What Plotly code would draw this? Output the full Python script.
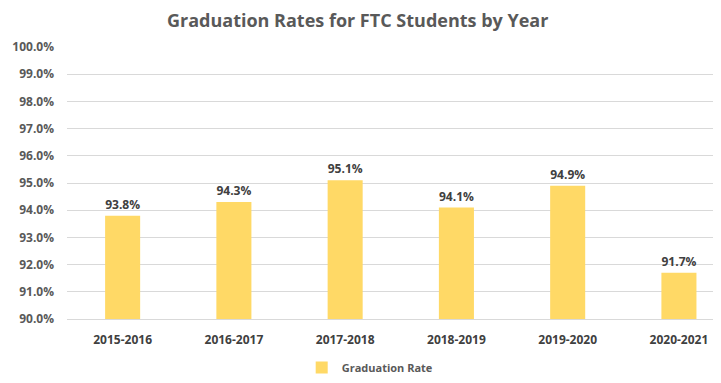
import plotly.graph_objects as go

years = ["2015-2016", "2016-2017", "2017-2018", "2018-2019", "2019-2020", "2020-2021"]
rates = [93.8, 94.3, 95.1, 94.1, 94.9, 91.7]
tick_vals = [90, 91, 92, 93, 94, 95, 96, 97, 98, 99, 100]
tick_text = [f"{v:.1f}%" for v in tick_vals]

fig = go.Figure()
fig.add_trace(go.Bar(
    x=years, y=rates, name="<b>Graduation Rate</b>",
    marker=dict(color="#FFD966", line=dict(width=0)),
    width=0.315,
    text=[f"<b>{v:.1f}%</b>" for v in rates],
    textposition="outside",
    textfont=dict(family="Open Sans", size=12.5, color="#404040"),
    cliponaxis=False,
))

fig.update_layout(
    width=721, height=383,
    margin=dict(l=59, r=0, t=39, b=71.5, autoexpand=False),
    paper_bgcolor="white", plot_bgcolor="white",
    title=dict(text="<b>Graduation Rates for FTC Students by Year</b>",
               x=0.485, xanchor="center", y=0.966, yanchor="middle",
               font=dict(family="Open Sans", size=18, color="#595959")),
    font=dict(family="Open Sans", size=12, color="#595959"),
    showlegend=True,
    legend=dict(orientation="h", x=0.458, xanchor="center", y=-0.178, yanchor="middle",
                itemwidth=30,
                font=dict(family="Open Sans", size=11, color="#595959")),
)
fig.update_yaxes(range=[90, 100], tickvals=tick_vals, ticktext=[f"<b>{t}</b>" for t in tick_text],
                 showgrid=True, gridcolor="#D9D9D9", gridwidth=1, zeroline=False,
                 showline=False, ticks="", ticklabelstandoff=12,
                 tickfont=dict(family="Open Sans", size=12, color="#595959"))
fig.update_xaxes(range=[-0.5, 5.45], tickvals=years, ticktext=[f"<b>{y}</b>" for y in years],
                 showline=True, linecolor="#D9D9D9", ticks="", ticklabelstandoff=10,
                 tickfont=dict(family="Open Sans", size=12, color="#404040"))

fig.write_html("out.html")
